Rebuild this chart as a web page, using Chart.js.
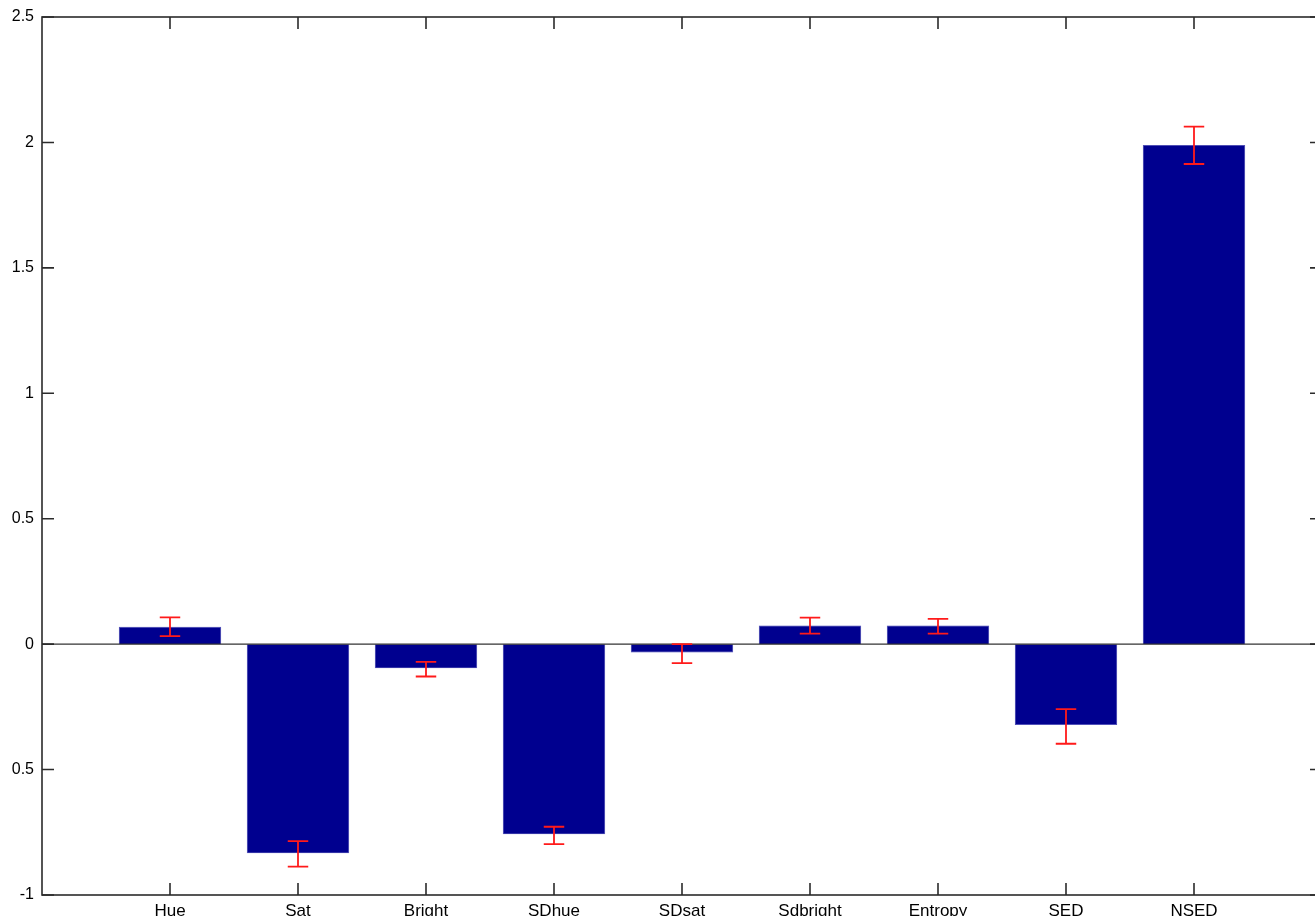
<!DOCTYPE html>
<html>
<head>
<meta charset="utf-8">
<script src="https://cdn.jsdelivr.net/npm/chart.js@4.4.1/dist/chart.umd.min.js"></script>
<style>
    body { margin: 0; background: #fff; overflow: hidden; }
</style>
</head>
<body>
<canvas id="chart" width="1340" height="916" style="width:1340px;height:916px"></canvas>
<script>
// data
var categories = ['Hue', 'Sat', 'Bright', 'SDhue', 'SDsat', 'Sdbright', 'Entropy', 'SED', 'NSED'];
var means = [0.069, -0.834, -0.096, -0.758, -0.033, 0.074, 0.074, -0.322, 1.990];
var errPlus = [0.038, 0.049, 0.025, 0.030, 0.033, 0.032, 0.027, 0.063, 0.073];
var errMinus = [0.037, 0.053, 0.033, 0.039, 0.043, 0.032, 0.032, 0.075, 0.076];
var yTickLabels = { '2.5': '2.5', '2': '2', '1.5': '1.5', '1': '1', '0.5': '0.5', '0': '0', '-0.5': '0.5', '-1': '-1' };

var BAR_COLOR = '#00008f';
var ERR_COLOR = '#ff1a1a';
var AXIS_COLOR = '#2b2b2b';

// build bar points on x = 1..9
var points = [];
for (var i = 0; i < categories.length; i++) {
    points.push({ x: i + 1, y: means[i] });
}

// baseline, error bars, axis box and inward ticks
var matlabAxes = {
    id: 'matlabAxes',
    afterDatasetsDraw: function(chart) {
        var ctx = chart.ctx;
        var xs = chart.scales.x;
        var ys = chart.scales.y;
        var a = chart.chartArea;

        ctx.save();

        // zero line
        ctx.strokeStyle = '#333';
        ctx.lineWidth = 1.2;
        ctx.beginPath();
        ctx.moveTo(a.left, ys.getPixelForValue(0));
        ctx.lineTo(a.right, ys.getPixelForValue(0));
        ctx.stroke();

        // error bars
        ctx.strokeStyle = ERR_COLOR;
        ctx.lineWidth = 1.8;
        for (var i = 0; i < means.length; i++) {
            var x = xs.getPixelForValue(i + 1);
            var xl = xs.getPixelForValue(i + 1 - 0.08);
            var xr = xs.getPixelForValue(i + 1 + 0.08);
            var yTop = ys.getPixelForValue(means[i] + errPlus[i]);
            var yBot = ys.getPixelForValue(means[i] - errMinus[i]);
            ctx.beginPath();
            ctx.moveTo(x, yTop); ctx.lineTo(x, yBot);
            ctx.moveTo(xl, yTop); ctx.lineTo(xr, yTop);
            ctx.moveTo(xl, yBot); ctx.lineTo(xr, yBot);
            ctx.stroke();
        }

        // box
        ctx.strokeStyle = AXIS_COLOR;
        ctx.lineWidth = 1.6;
        ctx.strokeRect(a.left, a.top, a.right - a.left, a.bottom - a.top);

        // ticks pointing inward
        var len = 12;
        ctx.beginPath();
        for (var k = 1; k <= categories.length; k++) {
            var px = xs.getPixelForValue(k);
            ctx.moveTo(px, a.bottom); ctx.lineTo(px, a.bottom - len);
            ctx.moveTo(px, a.top); ctx.lineTo(px, a.top + len);
        }
        ys.ticks.forEach(function(t) {
            var py = ys.getPixelForValue(t.value);
            ctx.moveTo(a.left, py); ctx.lineTo(a.left + len, py);
            ctx.moveTo(a.right, py); ctx.lineTo(a.right - len, py);
        });
        ctx.stroke();

        ctx.restore();
    }
};

var ctx = document.getElementById('chart').getContext('2d');
var chart = new Chart(ctx, {
    type: 'bar',
    data: {
        datasets: [{
            data: points,
            backgroundColor: BAR_COLOR,
            borderColor: '#3c3cb4',
            borderWidth: 0.6,
            barPercentage: 0.8,
            categoryPercentage: 1
        }]
    },
    options: {
        responsive: false,
        animation: false,
        devicePixelRatio: 1,
        layout: { padding: { left: 0, top: 17, right: 18, bottom: 0 } },
        plugins: {
            legend: { display: false },
            tooltip: { enabled: false }
        },
        scales: {
            x: {
                type: 'linear',
                min: 0,
                max: 10,
                offset: false,
                grid: { display: false, offset: false },
                border: { display: false },
                ticks: {
                    stepSize: 1,
                    autoSkip: false,
                    maxRotation: 0,
                    padding: -2,
                    color: '#000',
                    font: { family: 'Liberation Sans', size: 17 },
                    callback: function(v) { return categories[v - 1] || ''; }
                },
                afterFit: function(scale) { scale.height = 21; }
            },
            y: {
                min: -1,
                max: 2.5,
                grid: { display: false },
                border: { display: false },
                ticks: {
                    stepSize: 0.5,
                    padding: 0,
                    color: '#000',
                    font: { family: 'Liberation Sans', size: 16 },
                    callback: function(v) { return yTickLabels[String(v)]; }
                },
                afterFit: function(scale) { scale.width = 42; }
            }
        }
    },
    plugins: [matlabAxes]
});
</script>
</body>
</html>
